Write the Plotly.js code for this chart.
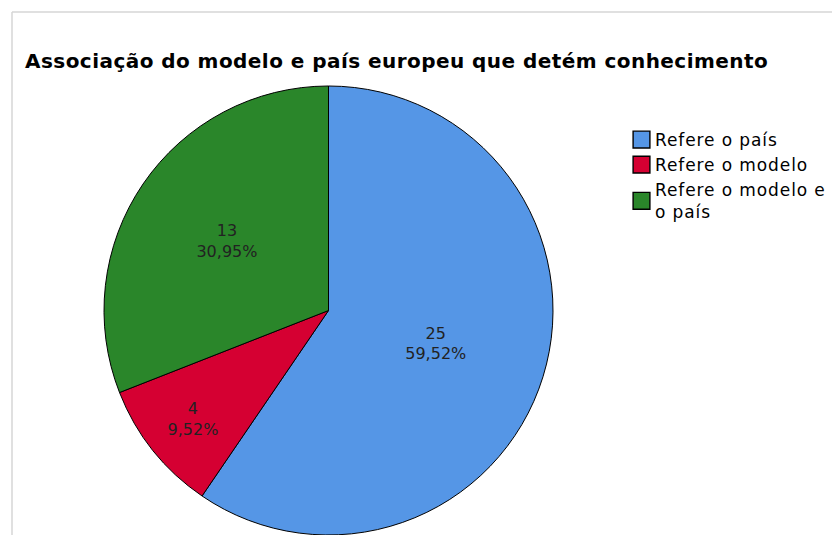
<!DOCTYPE html>
<html><head><meta charset="utf-8">
<script src="https://cdn.plot.ly/plotly-3.0.1.min.js"></script>
<style>
html,body{margin:0;padding:0;background:#fff}
#c{width:832px;height:535px}
.legendtext{letter-spacing:0.9px}
.gtitle{letter-spacing:0.45px}
.legendpie{transform:translate(26.5px,0px) scale(1.4)}
</style>
</head><body><div id="c"></div>
<script>
const labels = ["Refere o país", "Refere o modelo", "Refere o modelo e<br>o país"];
const counts = [25, 4, 13];
const percents = ["59,52%", "9,52%", "30,95%"];
const colors = ["#5596E6", "#D50032", "#2A862A"];

const texts = counts.map((c, i) => c + "<br>" + percents[i]);

const W = 832, H = 535;
const data = [{
  type: "pie",
  labels: labels,
  values: counts,
  text: texts,
  textinfo: "text",
  texttemplate: "%{text}",
  hoverinfo: "label+value",
  textposition: "inside",
  insidetextorientation: "horizontal",
  insidetextfont: {family: "DejaVu Sans", size: 16, color: "#222"},
  sort: false,
  direction: "clockwise",
  rotation: 0,
  marker: {colors: colors, line: {color: "#000", width: 1}},
  domain: {x: [104 / W, 553 / W], y: [0, 449 / H]}
}];

const layout = {
  width: W, height: H,
  margin: {l: 0, r: 0, t: 0, b: 0},
  paper_bgcolor: "#fff",
  font: {family: "DejaVu Sans", color: "#000"},
  title: {
    text: "<b>Associação do modelo e país europeu que detém conhecimento</b>",
    font: {family: "DejaVu Sans", size: 20, color: "#000"},
    x: 25 / W, xanchor: "left", y: 1 - 61 / H, yanchor: "middle"
  },
  showlegend: true,
  legend: {
    x: 615 / W, xanchor: "left", y: 1 - 122 / H, yanchor: "top",
    font: {family: "DejaVu Sans", size: 17, color: "#000"},
    tracegroupgap: 0, itemclick: false
  },
  shapes: [
    {type: "line", xref: "paper", yref: "paper", x0: 12 / W, x1: 1, y0: 1 - 12 / H, y1: 1 - 12 / H, line: {color: "#d6d6d6", width: 1.5}},
    {type: "line", xref: "paper", yref: "paper", x0: 12 / W, x1: 12 / W, y0: 0, y1: 1 - 12 / H, line: {color: "#d6d6d6", width: 1.5}}
  ]
};
Plotly.newPlot("c", data, layout, {displayModeBar: false, staticPlot: true});
</script></body></html>
